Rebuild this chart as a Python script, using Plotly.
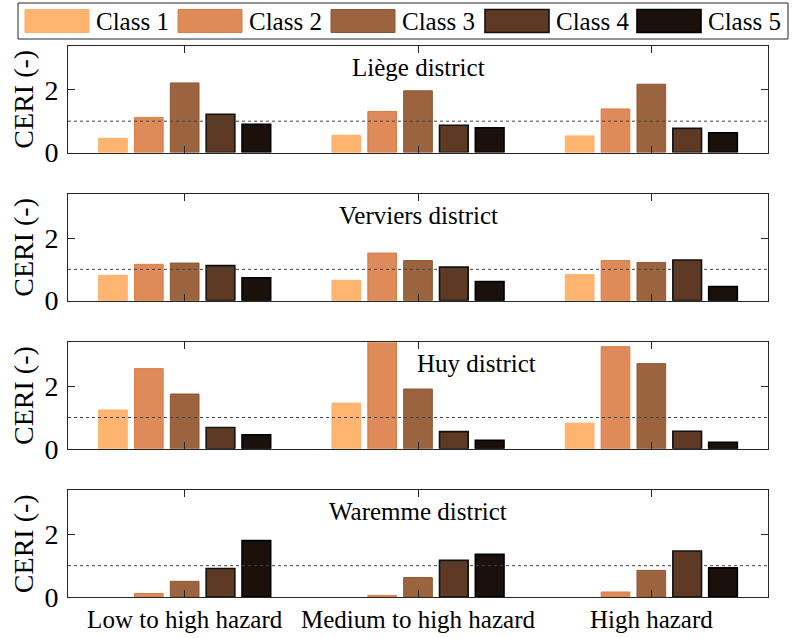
import plotly.graph_objects as go
from plotly.subplots import make_subplots

# --- dati (CERI per classe, 3 scenari di pericolosità) ---
HAZARDS = ["Low to high hazard", "Medium to high hazard", "High hazard"]
CLASSES = ["Class 1", "Class 2", "Class 3", "Class 4", "Class 5"]
DISTRICTS = ["Liège district", "Verviers district", "Huy district", "Waremme district"]

LIEGE = [
    [0.45, 0.55, 0.53],
    [1.12, 1.31, 1.39],
    [2.22, 1.97, 2.18],
    [1.22, 0.87, 0.77],
    [0.90, 0.79, 0.63],
]
VERVIERS = [
    [0.81, 0.65, 0.83],
    [1.16, 1.52, 1.28],
    [1.20, 1.28, 1.22],
    [1.12, 1.07, 1.30],
    [0.73, 0.61, 0.45],
]
HUY = [
    [1.24, 1.46, 0.82],
    [2.56, 3.50, 3.26],
    [1.75, 1.91, 2.72],
    [0.68, 0.55, 0.56],
    [0.45, 0.27, 0.21],
]
WAREMME = [
    [0.00, 0.00, 0.00],
    [0.11, 0.05, 0.16],
    [0.50, 0.62, 0.85],
    [0.91, 1.17, 1.47],
    [1.80, 1.36, 0.93],
]
DATA = [LIEGE, VERVIERS, HUY, WAREMME]

FILL = ["#FFB470", "#DE8A59", "#9C633F", "#5E3A25", "#1B110C"]
EDGE = ["#FDB06A", "#DB7C45", "#8F5633", "#111111", "#000000"]
EDGE_W = [1, 1, 1, 1.6, 1.6]

FONT = "Liberation Serif"
W, H = 792, 638
M_L, M_R, M_T, M_B = 68, 24, 46, 41

fig = make_subplots(rows=4, cols=1, vertical_spacing=0.0756)

for r, values in enumerate(DATA, start=1):
    for k, cls in enumerate(CLASSES):
        # niente bordo sulle barre nulle (altrimenti resta una lineetta sull'asse)
        lw = [0 if v == 0 else EDGE_W[k] for v in values[k]]
        fig.add_trace(go.Bar(x=HAZARDS, y=values[k], name=cls,
                             marker=dict(color=FILL[k],
                                         line=dict(color=EDGE[k], width=lw)),
                             showlegend=False), row=r, col=1)
    fig.add_hline(y=1, line=dict(color="#444444", width=1, dash="dot"), row=r, col=1)

    # titolo del distretto dentro il riquadro (Huy spostato a destra della barra alta)
    if r == 3:
        fig.add_annotation(x=1, y=2.72, text=DISTRICTS[r - 1], showarrow=False,
                           xanchor="left", yanchor="middle", xshift=-3,
                           font=dict(family=FONT, size=25, color="black"),
                           row=r, col=1)
    else:
        fig.add_annotation(x=1, y=2.72, text=DISTRICTS[r - 1], showarrow=False,
                           xanchor="center", yanchor="middle",
                           font=dict(family=FONT, size=25, color="black"),
                           row=r, col=1)

fig.update_xaxes(showline=True, mirror="allticks", linecolor="#262626", linewidth=1,
                 ticks="inside", ticklen=7, tickcolor="#262626",
                 showgrid=False, range=[-0.5, 2.5], layer="above traces",
                 tickfont=dict(family=FONT, size=25, color="black"))
for r in range(1, 4):
    fig.update_xaxes(showticklabels=False, row=r, col=1)

fig.update_yaxes(showline=True, mirror="allticks", linecolor="#262626", linewidth=1,
                 ticks="inside", ticklen=7, tickcolor="#262626",
                 showgrid=False, zeroline=False, range=[0, 3.4], layer="above traces",
                 tickvals=[0, 2], ticklabelstandoff=3,
                 tickfont=dict(family=FONT, size=28, color="black"),
                 title=dict(text="CERI (-)", standoff=2,
                            font=dict(family=FONT, size=28, color="black")))

# legenda disegnata a mano (riquadri larghi come nell'originale)
pw = W - M_L - M_R
ph = H - M_T - M_B


def px_x(x):
    return (x - M_L) / pw


def px_y(y):
    return (H - M_B - y) / ph


shapes = [dict(type="rect", xref="paper", yref="paper",
               x0=px_x(18), x1=px_x(788), y0=px_y(39), y1=px_y(3),
               line=dict(color="#262626", width=1), fillcolor="white")]
sw_left = [25, 178, 331, 485, 637]
for k, cls in enumerate(CLASSES):
    x0 = sw_left[k]
    shapes.append(dict(type="rect", xref="paper", yref="paper",
                       x0=px_x(x0), x1=px_x(x0 + 64), y0=px_y(32.5), y1=px_y(9.5),
                       line=dict(color=EDGE[k], width=EDGE_W[k]), fillcolor=FILL[k]))
    fig.add_annotation(xref="paper", yref="paper", x=px_x(x0 + 69), y=px_y(21),
                       text=cls, showarrow=False, xanchor="left", yanchor="middle",
                       font=dict(family=FONT, size=25, color="black"))

fig.update_layout(width=W, height=H, shapes=list(fig.layout.shapes) + shapes,
                  margin=dict(l=M_L, r=M_R, t=M_T, b=M_B, autoexpand=False),
                  barmode="group", bargap=0.232, bargroupgap=0.2,
                  plot_bgcolor="white", paper_bgcolor="white",
                  font=dict(family=FONT, color="black"))

# niente margine del body, così la figura occupa esattamente la finestra
fig.write_html("out.html", config={"displayModeBar": False},
               post_script="document.body.style.margin='0';")
